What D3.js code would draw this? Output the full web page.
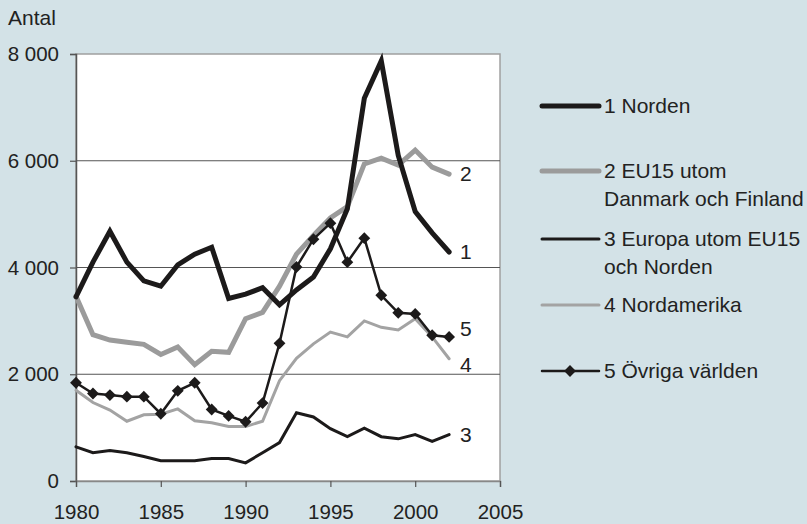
<!DOCTYPE html>
<html>
<head>
<meta charset="utf-8">
<script src="https://cdn.jsdelivr.net/npm/d3@7"></script>
<style>
  body { margin: 0; background: #d3e2e7; }
  svg { display: block; font-family: "Liberation Sans", Arial, sans-serif; }
</style>
</head>
<body>
<div id="chart"></div>
<script>
// Data
const years = d3.range(1980, 2003);
const norden = [3450, 4100, 4680, 4100, 3750, 3650, 4050, 4250, 4380, 3420, 3500, 3620, 3300, 3580, 3820, 4350, 5100, 7170, 7870, 6100, 5050, 4650, 4290];
const eu15 = [3460, 2740, 2640, 2600, 2560, 2370, 2510, 2180, 2430, 2410, 3040, 3160, 3650, 4250, 4600, 4930, 5140, 5940, 6050, 5920, 6200, 5880, 5750];
const europa = [640, 530, 570, 530, 460, 380, 380, 380, 420, 420, 340, 530, 720, 1280, 1200, 980, 830, 990, 830, 790, 870, 740, 870];
const nordamerika = [1700, 1470, 1330, 1120, 1240, 1250, 1350, 1130, 1090, 1020, 1020, 1120, 1880, 2300, 2570, 2790, 2700, 3000, 2880, 2830, 3040, 2700, 2290];
const ovriga = [1840, 1640, 1610, 1580, 1580, 1260, 1690, 1840, 1340, 1220, 1110, 1460, 2580, 4010, 4530, 4830, 4100, 4550, 3480, 3150, 3130, 2730, 2700];

const seriesNames = ["1 Norden", "2 EU15 utom\nDanmark och Finland", "3 Europa utom EU15\noch Norden", "4 Nordamerika", "5 Övriga världen"];
const seriesValues = [norden, eu15, europa, nordamerika, ovriga];
const seriesColors = ["#1c1a1a", "#9b9b9b", "#1c1a1a", "#a3a3a3", "#1c1a1a"];
const seriesWidths = [5, 5, 3, 3, 2.5];
const endLabels = ["1", "2", "3", "4", "5"];
const yTicks = [0, 2000, 4000, 6000, 8000];
const xTicks = [1980, 1985, 1990, 1995, 2000, 2005];

const W = 807, H = 524;
const margin = { top: 54, left: 76 };
const width = 424, height = 427;

const svg = d3.select("#chart").append("svg")
    .attr("width", W)
    .attr("height", H);

const g = svg.append("g").attr("transform", `translate(${margin.left},${margin.top})`);

const x = d3.scaleLinear().domain([1980, 2005]).range([0, width]);
const y = d3.scaleLinear().domain([0, 8000]).range([height, 0]);

const fmt = d3.formatLocale({ decimal: ",", thousands: " ", grouping: [3], currency: ["", ""] }).format(",");

// Plot area
g.append("rect")
    .attr("width", width).attr("height", height)
    .attr("fill", "#fff")
    .attr("stroke", "#a0a0a0").attr("stroke-width", 1.5);

// Gridlines
g.selectAll(".grid").data(yTicks.filter(d => d > 0 && d < 8000)).enter()
    .append("line")
    .attr("x1", 0).attr("x2", width)
    .attr("y1", d => y(d)).attr("y2", d => y(d))
    .attr("stroke", "#555").attr("stroke-width", 1.2);

// Axes
const yAxis = g.append("g")
    .call(d3.axisLeft(y).tickValues(yTicks).tickFormat(fmt).tickSize(6).tickPadding(11));
const xAxis = g.append("g")
    .attr("transform", `translate(0,${height})`)
    .call(d3.axisBottom(x).tickValues(xTicks).tickFormat(d3.format("d")).tickSize(6).tickPadding(17));

[yAxis, xAxis].forEach(a => {
    a.select(".domain").attr("stroke", "#555").attr("stroke-width", 1.5);
    a.selectAll(".tick line").attr("stroke", "#555").attr("stroke-width", 1.2);
    a.selectAll("text").attr("fill", "#222").style("font-size", "20.5px");
});
xAxis.select(".domain").attr("stroke", "#888");

svg.append("text")
    .attr("x", 8).attr("y", 25)
    .attr("fill", "#222")
    .style("font-size", "21px")
    .text("Antal");

// Lines
const line = d3.line().x((d, i) => x(years[i])).y(d => y(d));
const drawOrder = [3, 2, 1, 0, 4];
drawOrder.forEach(k => {
    g.append("path")
        .datum(seriesValues[k])
        .attr("fill", "none")
        .attr("stroke", seriesColors[k])
        .attr("stroke-width", seriesWidths[k])
        .attr("stroke-linejoin", "miter")
        .attr("stroke-linecap", "round")
        .attr("d", line);
});

const diamond = d3.symbol().type(d3.symbolSquare).size(70);
g.selectAll(".dia").data(ovriga).enter()
    .append("path")
    .attr("d", diamond)
    .attr("fill", "#1c1a1a")
    .attr("transform", (d, i) => `translate(${x(years[i])},${y(d)}) rotate(45)`);

// End labels
const endOffsets = [0, 0, 0, 6, -8];
endLabels.forEach((t, k) => {
    const v = seriesValues[k];
    g.append("text")
        .attr("x", x(2002) + 11)
        .attr("y", y(v[v.length - 1]) + endOffsets[k])
        .attr("dy", "0.35em")
        .attr("fill", "#222")
        .style("font-size", "21px")
        .text(t);
});

// Legend
const legendY = [106, 171, 239, 305, 371];
seriesNames.forEach((name, k) => {
    const lg = svg.append("g").attr("transform", `translate(542,${legendY[k]})`);
    lg.append("line")
        .attr("x1", 0).attr("x2", 57)
        .attr("stroke", seriesColors[k])
        .attr("stroke-width", seriesWidths[k])
        .attr("stroke-linecap", "round");
    if (k === 4) {
        lg.append("path").attr("d", diamond).attr("fill", "#1c1a1a")
            .attr("transform", "translate(28,0) rotate(45)");
    }
    name.split("\n").forEach((s, j) => {
        lg.append("text")
            .attr("x", 62).attr("y", j * 28)
            .attr("dy", "0.35em")
            .attr("fill", "#222")
            .style("font-size", "21px")
            .text(s);
    });
});
</script>
</body>
</html>
